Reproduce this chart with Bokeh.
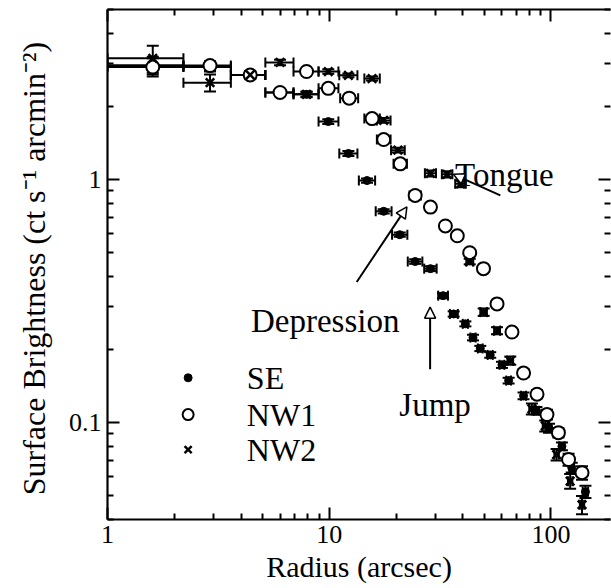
import numpy as np
from bokeh.plotting import figure
from bokeh.models import (Range1d, FixedTicker, LogAxis, Whisker, TeeHead, Label,
                          Arrow, NormalHead, ColumnDataSource)
from bokeh.embed import file_html
from bokeh.resources import INLINE

# ---------------- data ----------------
se_r    = [1.6, 2.9, 4.4, 6.0, 7.9, 9.9, 12.2, 14.8, 17.6, 20.8, 24.4, 28.6, 32.6, 36.4,
           41.1, 44.5, 48.0, 53.2, 60.1, 64.4, 75.2, 86.0, 98.0, 112.0, 124.0, 143.0]
se_rlo  = [1.0, 2.2, 3.6, 5.15, 6.9, 8.95, 11.1, 13.6, 16.2, 19.2, 22.6, 26.8, 31.0, 35.0,
           40.0, 43.3, 46.8, 51.8, 58.6, 62.8, 73.3, 83.8, 95.5, 109.0, 121.0, 139.0]
se_rhi  = [2.2, 3.6, 5.15, 6.9, 8.95, 11.0, 13.4, 16.1, 19.1, 22.5, 26.3, 30.5, 34.3, 38.0,
           42.2, 45.7, 49.2, 54.6, 61.6, 66.0, 77.1, 88.2, 100.5, 115.0, 127.0, 147.0]
se_sb   = [2.95, 2.9, 2.69, 2.28, 2.24, 1.73, 1.28, 0.99, 0.74, 0.593, 0.46, 0.43, 0.333, 0.28,
           0.255, 0.224, 0.202, 0.19, 0.173, 0.149, 0.129, 0.112, 0.095, 0.080, 0.0654, 0.052]
se_err  = [0.25, 0.12, 0.08, 0.06, 0.05, 0.04, 0.03, 0.02, 0.015, 0.012, 0.01, 0.01, 0.008, 0.007,
           0.006, 0.006, 0.005, 0.005, 0.005, 0.004, 0.004, 0.004, 0.004, 0.003, 0.003, 0.003]

nw1_r   = [1.6, 2.9, 4.4, 6.0, 7.9, 9.9, 12.3, 15.6, 17.6, 20.9, 24.4, 28.6, 33.4, 37.8,
           43.0, 49.6, 57.1, 66.7, 75.2, 86.5, 95.9, 108.0, 120.0, 138.0]
nw1_rlo = [1.0, 2.2, 3.6, 5.15, 6.9, 8.95, 11.2, 14.4, 16.4, 19.5, 23.0, 27.3, 32.0, 36.3,
           41.5, 48.0, 55.4, 64.8, 73.2, 84.3, 93.6, 105.5, 117.3, 135.0]
nw1_rhi = [2.2, 3.6, 5.15, 6.9, 8.95, 11.0, 13.5, 16.9, 18.9, 22.4, 25.9, 30.0, 34.9, 39.4,
           44.6, 51.2, 58.9, 68.7, 77.3, 88.8, 98.3, 110.6, 122.8, 141.1]
nw1_sb  = [2.9, 2.94, 2.69, 2.28, 2.78, 2.37, 2.16, 1.78, 1.46, 1.16, 0.86, 0.77, 0.644, 0.587,
           0.50, 0.43, 0.308, 0.236, 0.16, 0.131, 0.108, 0.091, 0.0706, 0.0623]
nw1_err = [0.25, 0.12, 0.08, 0.06, 0.06, 0.05, 0.04, 0.03, 0.03, 0.02, 0.02, 0.015, 0.012, 0.012,
           0.01, 0.01, 0.008, 0.007, 0.006, 0.005, 0.005, 0.004, 0.004, 0.004]

nw2_r   = [1.6, 2.9, 4.4, 6.0, 7.9, 9.9, 12.2, 15.6, 17.6, 20.4, 28.6, 34.0, 39.1, 43.0,
           49.7, 57.1, 65.5, 82.0, 94.2, 106.0, 122.0, 138.0]
nw2_rlo = [1.0, 2.2, 3.6, 5.15, 6.9, 8.95, 11.1, 14.4, 16.4, 19.0, 27.0, 32.2, 37.0, 41.5,
           48.0, 55.4, 63.6, 79.8, 91.8, 103.6, 119.3, 135.0]
nw2_rhi = [2.2, 3.6, 5.15, 6.9, 8.95, 11.0, 13.4, 16.9, 18.9, 21.9, 30.3, 35.9, 41.2, 44.6,
           51.4, 58.9, 67.5, 84.3, 96.6, 108.5, 124.8, 141.1]
nw2_sb  = [3.15, 2.5, 2.69, 3.03, 2.24, 2.78, 2.68, 2.6, 1.75, 1.32, 1.06, 1.05, 0.96, 0.46,
           0.285, 0.239, 0.18, 0.114, 0.097, 0.074, 0.0575, 0.046]
nw2_err = [0.4, 0.2, 0.1, 0.08, 0.06, 0.06, 0.05, 0.05, 0.04, 0.03, 0.03, 0.03, 0.03, 0.012,
           0.01, 0.008, 0.007, 0.006, 0.005, 0.004, 0.004, 0.004]

x_major = [1, 10, 100]
x_minor = [2, 3, 4, 5, 6, 7, 8, 9, 20, 30, 40, 50, 60, 70, 80, 90, 200]
y_major = [0.1, 1]
y_minor = [0.04, 0.05, 0.06, 0.07, 0.08, 0.09, 0.2, 0.3, 0.4, 0.5, 0.6, 0.7, 0.8, 0.9, 2, 3, 4, 5]

FONT = "Liberation Serif"

p = figure(width=611, height=588, x_axis_type="log", y_axis_type="log",
           x_range=Range1d(1, 185.5), y_range=Range1d(0.04, 5.0),
           output_backend="svg", toolbar_location=None,
           min_border_left=107, min_border_right=1, min_border_top=9, min_border_bottom=69)
p.outline_line_color = None
p.xgrid.visible = False
p.ygrid.visible = False
p.background_fill_color = "white"


def style_axis(ax, ticks, minor):
    ax.ticker = FixedTicker(ticks=ticks, minor_ticks=minor)
    ax.axis_line_width = 2.2
    ax.axis_line_color = "black"
    ax.major_tick_in = 12
    ax.major_tick_out = 0
    ax.minor_tick_in = 6
    ax.minor_tick_out = 0
    ax.major_tick_line_width = 2
    ax.minor_tick_line_width = 2
    ax.major_label_text_font = FONT
    ax.major_label_text_font_size = "26px"
    ax.major_label_text_color = "black"
    ax.axis_label_text_font = FONT
    ax.axis_label_text_font_size = "30px"
    ax.axis_label_text_font_style = "normal"
    ax.axis_label_text_color = "black"


xa = p.xaxis[0]
style_axis(xa, x_major, x_minor)
xa.major_label_overrides = {1: "1", 10: "10", 100: "100"}
xa.axis_label = "Radius (arcsec)"
xa.major_label_standoff = 6
xa.axis_label_standoff = 4

ya = p.yaxis[0]
style_axis(ya, y_major, y_minor)
ya.major_label_overrides = {0.1: "0.1", 1: "1"}
ya.axis_label = "Surface Brightness (ct s\u207b\u00b9  arcmin\u207b\u00b2)"
ya.axis_label_text_font_size = "32px"
ya.major_label_standoff = 6
ya.axis_label_standoff = 14

top = LogAxis()
style_axis(top, x_major, x_minor)
top.major_label_overrides = {1: "", 10: "", 100: ""}
top.major_label_standoff = 0
top.major_label_text_font_size = "2px"
p.add_layout(top, "above")
right = LogAxis()
style_axis(right, y_major, y_minor)
right.major_label_overrides = {0.1: "", 1: ""}
right.major_label_standoff = 0
right.major_label_text_font_size = "2px"
right.axis_line_color = None
p.add_layout(right, "right")


def series(r, rlo, rhi, sb, err, marker, size, fill, lw):
    src = ColumnDataSource(dict(r=r, rlo=rlo, rhi=rhi, sb=sb,
                                slo=[s - e for s, e in zip(sb, err)],
                                shi=[s + e for s, e in zip(sb, err)]))
    p.add_layout(Whisker(source=src, base="sb", lower="rlo", upper="rhi", dimension="width",
                         line_width=2, line_color="black",
                         lower_head=TeeHead(size=10, line_width=2),
                         upper_head=TeeHead(size=10, line_width=2)))
    p.add_layout(Whisker(source=src, base="r", lower="slo", upper="shi", dimension="height",
                         line_width=2, line_color="black",
                         lower_head=TeeHead(size=12, line_width=2),
                         upper_head=TeeHead(size=12, line_width=2)))
    p.scatter("r", "sb", source=src, marker=marker, size=size, fill_color=fill,
              line_color="black", line_width=lw)


series(se_r, se_rlo, se_rhi, se_sb, se_err, "circle", 8, "black", 1)
series(nw1_r, nw1_rlo, nw1_rhi, nw1_sb, nw1_err, "circle", 13, "white", 2)
series(nw2_r, nw2_rlo, nw2_rhi, nw2_sb, nw2_err, "x", 12, None, 2.5)

# ---------------- legend (drawn manually) ----------------
leg_names = ["SE", "NW1", "NW2"]
leg_y = [0.153, 0.108, 0.0775]
leg_mx = 2.31
leg_tx = 4.25
p.scatter([leg_mx], [leg_y[0]], marker="circle", size=8, fill_color="black", line_color="black")
p.scatter([leg_mx], [leg_y[1]], marker="circle", size=11, fill_color="white", line_color="black", line_width=2)
p.scatter([leg_mx], [leg_y[2]], marker="x", size=10, line_color="black", line_width=2.5)
for name, yy in zip(leg_names, leg_y):
    p.add_layout(Label(x=leg_tx, y=yy, text=name, text_font=FONT, text_font_size="32px",
                       text_baseline="middle", text_align="left", text_color="black"))

# ---------------- annotations ----------------
ann_text = ["Tongue", "Depression", "Jump"]
ann_x = [61.6, 9.59, 30.0]
ann_y = [1.04, 0.262, 0.118]
for t, ax_, ay_ in zip(ann_text, ann_x, ann_y):
    p.add_layout(Label(x=ax_, y=ay_, text=t, text_font=FONT, text_font_size="33px",
                       text_align="center", text_baseline="alphabetic", text_color="black"))

arrow_x0 = [59.1, 13.3, 28.5]
arrow_y0 = [0.86, 0.379, 0.166]
arrow_x1 = [36.3, 22.4, 28.5]
arrow_y1 = [1.05, 0.772, 0.2985]
for x0, y0, x1, y1 in zip(arrow_x0, arrow_y0, arrow_x1, arrow_y1):
    p.add_layout(Arrow(x_start=x0, y_start=y0, x_end=x1, y_end=y1, line_width=2,
                       end=NormalHead(size=11, fill_color="white", line_width=1.5)))

open("out.html", "w").write(file_html(p, INLINE))
